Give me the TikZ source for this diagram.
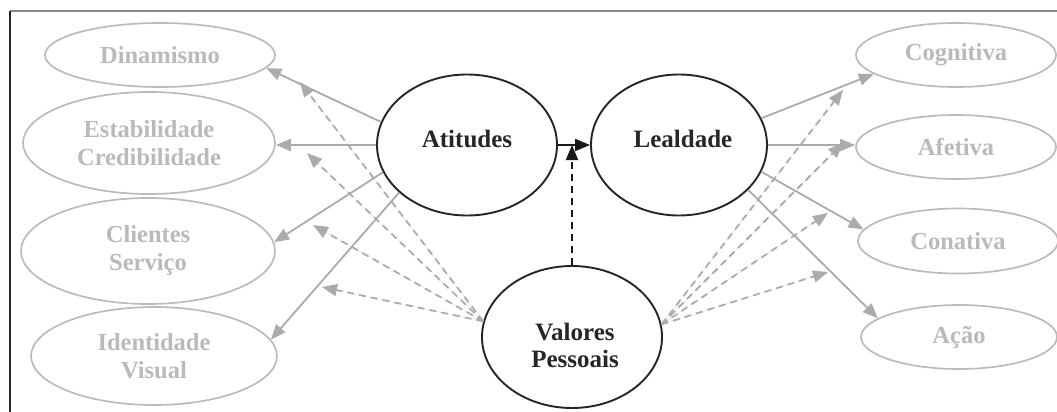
\documentclass[tikz,border=0pt]{standalone}
\usepackage{fontspec}
\setmainfont{Liberation Serif}
\usetikzlibrary{arrows.meta,shapes.geometric}
\definecolor{gtext}{HTML}{BABABA}
\definecolor{gline}{HTML}{ABABAB}
\definecolor{gell}{HTML}{BBBBBB}
\definecolor{frametop}{HTML}{8A8A8A}
\definecolor{frameleft}{HTML}{2A2A2A}
\tikzset{
  gellipse/.style={ellipse, draw=gell, line width=1.7pt, inner sep=0pt, text=gtext, align=center,
    font=\fontsize{24.5}{28}\selectfont\bfseries},
  bellipse/.style={ellipse, draw=black!85, line width=1.9pt, inner sep=0pt},
  btext/.style={align=center, inner sep=0pt, font=\fontsize{25}{27}\selectfont\bfseries, text=black!85},
  garrow/.style={draw=gline, line width=1.8pt, -{Triangle[length=15pt,width=12pt]}, fill=gline},
  gdash/.style={garrow, dash pattern=on 7pt off 5pt},
  barrow/.style={draw=black!90, line width=1.9pt, -{Triangle[length=15pt,width=12pt]}},
  bdash/.style={barrow, dash pattern=on 7pt off 5pt},
}
\begin{document}
\begin{tikzpicture}[x=1pt,y=-1pt]
\useasboundingbox (0,0) rectangle (1057,412);
\fill[white] (0,0) rectangle (1057,412);
% frame
\draw[frametop, line width=1.3pt] (10,11) -- (1057,11);
\draw[frameleft, line width=1.5pt] (10,11) -- (10,412);
% left nodes
\node[gellipse, minimum width=230pt, minimum height=64pt] (din) at (160,55) {Dinamismo};
\node[gellipse, minimum width=252pt, minimum height=102pt] (est) at (149,143) {Estabilidade\\Credibilidade};
\node[gellipse, minimum width=254pt, minimum height=106pt] (cli) at (148,251) {Clientes\\Serviço};
\node[gellipse, minimum width=246pt, minimum height=98pt] (ide) at (154,356) {Identidade\\Visual};
% right nodes
\node[gellipse, minimum width=200pt, minimum height=64pt] (cog) at (956,55) {Cognitiva};
\node[gellipse, minimum width=200pt, minimum height=64pt] (afe) at (956,147) {Afetiva};
\node[gellipse, minimum width=200pt, minimum height=65pt] (con) at (958,241) {Conativa};
\node[gellipse, minimum width=196pt, minimum height=64pt] (aca) at (959,337) {Ação};
% central nodes
\node[bellipse, minimum width=180pt, minimum height=141pt] (att) at (467,145) {};
\node[btext] (attt) at (467,139) {Atitudes};
\node[bellipse, minimum width=176pt, minimum height=141pt] (lea) at (679,145) {};
\node[btext] (leat) at (683,139) {Lealdade};
\node[bellipse, minimum width=180pt, minimum height=142pt] (val) at (572,337) {};
\node[btext] (valt) at (575,345) {Valores\\Pessoais};
% dashed tips
\coordinate (d1) at (300,82);
\coordinate (d2) at (307,153);
\coordinate (d3) at (313,225);
\coordinate (d4) at (322,287);
\coordinate (e1) at (843,90);
\coordinate (e2) at (843,143);
\coordinate (e3) at (828,213);
\coordinate (e4) at (828,272);
% gray dashed
\foreach \t in {d1,d2,d3,d4} \draw[gdash] (val.170) -- (\t);
\foreach \t in {e1,e2,e3,e4} \draw[gdash] (val.8) -- (\t);
% gray solid left
\draw[garrow] (att.165) -- (din.-7);
\draw[garrow] (att.west) -- (att.west -| est.east);
\draw[garrow] (att.198) -- (cli.4);
\draw[garrow] (att.215) -- (ide.8);
% gray solid right
\draw[garrow] (lea.18) -- (cog.193);
\draw[garrow] (lea.east) -- (lea.east -| afe.west);
\draw[garrow] (lea.-18) -- (con.173);
\draw[garrow] (lea.-33) -- (aca.167);
% black
\draw[barrow] (att.east) -- (lea.west);
\draw[bdash] (val.north) -- (val.north |- att.east);
\end{tikzpicture}
\end{document}
